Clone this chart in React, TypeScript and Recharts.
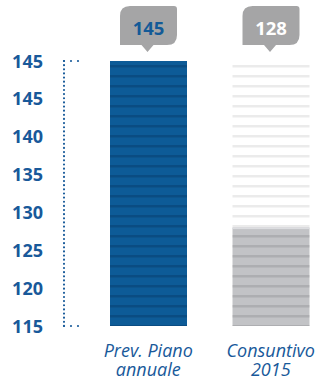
import { BarChart, Bar, XAxis, YAxis, LabelList } from 'recharts';

const categories = ['Prev. Piano\nannuale', 'Consuntivo\n2015'];
const values = [145, 128];
const yTicks = [115, 120, 125, 130, 135, 140, 145, 150];
const yTickLabels = ['115', '120', '125', '130', '135', '140', '145', '145'];

const data = categories.map((name, i) => ({ name, value: values[i] }));

const BLUE_TEXT = '#18599a';
const FONT = '"Open Sans", "Noto Sans", sans-serif';
const barFills = ['url(#blueStripes)', 'url(#greyStripes)'];
const trackFills = ['url(#blueStripes)', 'url(#lightStripes)'];
const calloutText = ['#135a97', '#ffffff'];

const YTick = (props: any) => {
  const { x, y, index, payload } = props;
  const last = yTicks.length - 1;
  const edge = index === 0 || index === last || payload.value === yTicks[last];
  return (
    <g>
      <text x={x - 21} y={y + 6.5} textAnchor="end" fill={BLUE_TEXT} fontFamily={FONT} fontWeight={700} fontSize={18}>
        {yTickLabels[yTicks.indexOf(payload.value)]}
      </text>
      {edge && (
        <line x1={x} x2={x + 15} y1={y} y2={y} stroke="#1d5e9c" strokeWidth={2.2} strokeLinecap="round" strokeDasharray="0 7" />
      )}
    </g>
  );
};

const XTick = (props: any) => {
  const { x, y, payload } = props;
  const lines = String(payload.value).split('\n');
  return (
    <text textAnchor="middle" fill={BLUE_TEXT} fontFamily={FONT} fontStyle="italic" fontSize={18}>
      {lines.map((l, i) => (
        <tspan key={i} x={x} y={y + 31 + i * 19}>{l}</tspan>
      ))}
    </text>
  );
};

const Track = (props: any) => (
  <rect x={props.x} y={props.y} width={props.width} height={props.height} fill={trackFills[props.index]} />
);

const BarShape = (props: any) => {
  const { x, y, width, height, index } = props;
  return (
    <g>
      <rect x={x} y={y} width={width} height={height} fill={barFills[index]} />
      {index === 1 && <rect x={x} y={y} width={width} height={1.5} fill="#dcdde0" />}
    </g>
  );
};

const Callout = (props: any) => {
  const { x, width, value, index } = props;
  const cx = x + width / 2;
  const l = cx - 28.5;
  const r = cx + 28.5;
  const t = 6;
  const b = 45;
  const d = `M${l + 10},${t} L${r - 3},${t} Q${r},${t} ${r},${t + 3} L${r},${b - 10} Q${r},${b} ${r - 10},${b} L${cx + 5},${b} L${cx - 1},${b + 7} L${cx - 7},${b} L${l},${b} L${l},${t + 10} Q${l},${t} ${l + 10},${t} Z`;
  return (
    <g>
      <path d={d} fill="#a5a5a6" />
      <text x={cx} y={35} textAnchor="middle" fill={calloutText[index]} fontFamily={FONT} fontWeight={700} fontSize={18.5}>
        {value}
      </text>
    </g>
  );
};

export default function App() {
  return (
    <div style={{ position: 'absolute', left: 0, top: 0, width: 321, height: 380, background: '#fff' }}>
      <svg width={0} height={0} style={{ position: 'absolute' }}>
        <defs>
          <pattern id="blueStripes" patternUnits="userSpaceOnUse" width={400} height={10}>
            <rect width={400} height={10} fill="#0d5b97" />
            <rect y={5} width={400} height={2.5} fill="#0a4c82" />
          </pattern>
          <pattern id="lightStripes" patternUnits="userSpaceOnUse" width={400} height={10}>
            <rect width={400} height={10} fill="#ffffff" />
            <rect y={5} width={400} height={2.5} fill="#ebebeb" />
          </pattern>
          <pattern id="greyStripes" patternUnits="userSpaceOnUse" width={400} height={10}>
            <rect width={400} height={10} fill="#c2c3c6" />
            <rect y={5} width={400} height={2.5} fill="#adaeb1" />
          </pattern>
        </defs>
      </svg>
      <BarChart width={321} height={380} data={data} margin={{ top: 61, right: -11, bottom: 0, left: 0 }}>
        <XAxis
          dataKey="name"
          axisLine={false}
          tickLine={false}
          tickSize={0}
          tickMargin={0}
          height={54}
          padding={{ left: 23, right: 0 }}
          tick={XTick}
          interval={0}
        />
        <YAxis
          type="number"
          domain={[115, 150]}
          ticks={yTicks}
          interval={0}
          width={64}
          tickSize={0}
          tickMargin={0}
          tickLine={false}
          axisLine={{ stroke: '#1d5e9c', strokeWidth: 2.2, strokeLinecap: 'round', strokeDasharray: '0 4.14' }}
          tick={YTick}
          allowDataOverflow
        />
        <Bar dataKey="value" barSize={77} background={Track} shape={BarShape} isAnimationActive={false}>
          <LabelList dataKey="value" content={Callout} />
        </Bar>
      </BarChart>
    </div>
  );
}
